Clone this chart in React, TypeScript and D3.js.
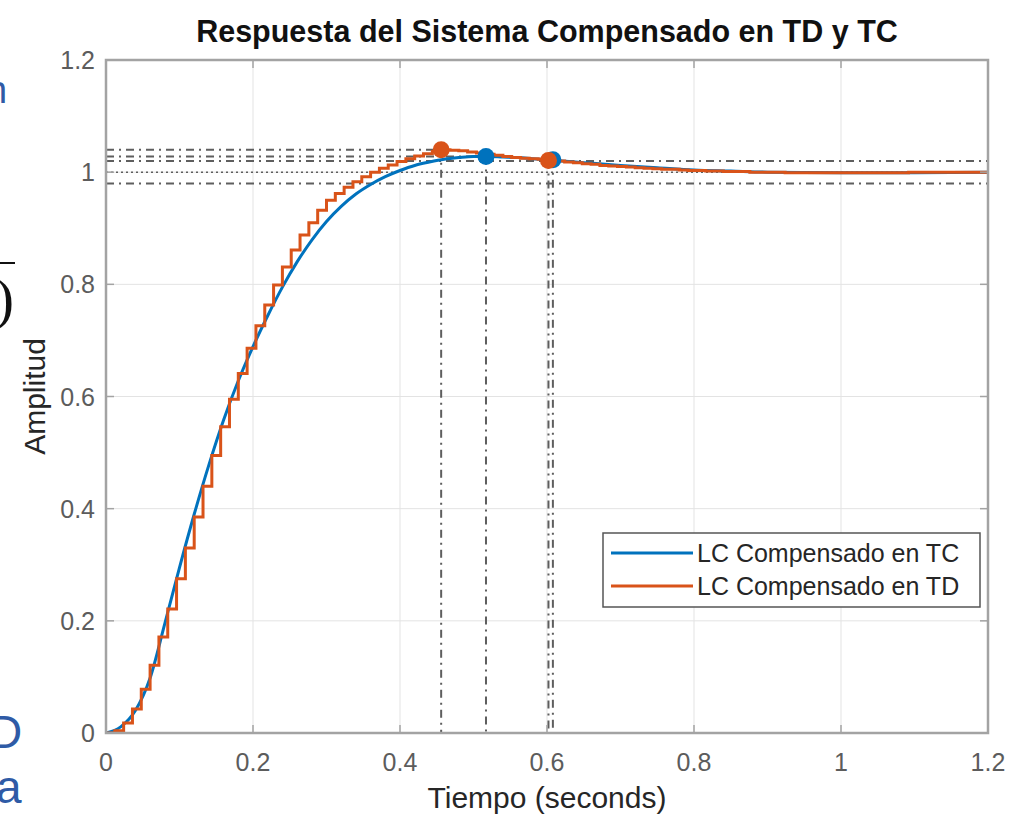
import { useRef, useEffect } from 'react';
import * as d3 from 'd3';

// continuous-time closed loop (blue)
const tcTime = [0, 0.02, 0.04, 0.06, 0.08, 0.10, 0.12, 0.14, 0.16, 0.18, 0.20, 0.22, 0.24, 0.26, 0.28, 0.30,
  0.32, 0.34, 0.36, 0.38, 0.40, 0.42, 0.44, 0.46, 0.48, 0.50, 0.52, 0.54, 0.56, 0.58, 0.60, 0.62, 0.65,
  0.70, 0.75, 0.80, 0.85, 0.90, 1.00, 1.10, 1.20];
const tcValue = [0, 0.011, 0.040, 0.098, 0.195, 0.295, 0.390, 0.478, 0.558, 0.628, 0.689, 0.744, 0.795, 0.840,
  0.879, 0.912, 0.939, 0.961, 0.978, 0.992, 1.003, 1.012, 1.018, 1.023, 1.026, 1.028, 1.028, 1.027, 1.026,
  1.024, 1.022, 1.020, 1.017, 1.012, 1.008, 1.004, 1.002, 1.000, 0.999, 0.999, 1.000];

// discrete-time closed loop (orange), one value per sample
const SAMPLE_T = 0.012;
const tdValue = [
  0, 0.004, 0.018, 0.043, 0.078, 0.121, 0.171, 0.221, 0.275, 0.330,
  0.385, 0.440, 0.495, 0.546, 0.595, 0.641, 0.686, 0.726, 0.763, 0.799,
  0.831, 0.861, 0.888, 0.910, 0.932, 0.950, 0.962, 0.973, 0.983, 0.992,
  1.000, 1.007, 1.013, 1.019, 1.024, 1.029, 1.033, 1.037, 1.040, 1.039,
  1.038, 1.036, 1.034, 1.032, 1.030, 1.028, 1.026, 1.025, 1.024, 1.023,
  1.021, 1.020, 1.018, 1.017, 1.015, 1.014, 1.012, 1.011, 1.010, 1.009,
  1.008, 1.007, 1.006, 1.005, 1.005, 1.004, 1.003, 1.003, 1.002, 1.002,
  1.001, 1.001, 1.001, 1.000, 1.000, 1.000, 1.000, 0.999, 0.999, 0.999,
  0.999, 0.999, 0.999, 0.999, 0.999, 0.999, 0.999, 0.999, 0.999, 0.999,
  0.999, 1.000, 1.000, 1.000, 1.000, 1.000, 1.000, 1.000, 1.000, 1.000,
  1.000,
];

// response characteristics [t, y]
const tcPeak = [0.517, 1.028];
const tdPeak = [0.456, 1.040];
const tcSettle = [0.608, 1.022];
const tdSettle = [0.602, 1.021];
const settleBand = [0.98, 1.02];
const finalValue = 1.0;

const xTicks = [0, 0.2, 0.4, 0.6, 0.8, 1, 1.2];
const yTicks = [0, 0.2, 0.4, 0.6, 0.8, 1, 1.2];

const legendLabels = ['LC Compensado en TC', 'LC Compensado en TD'];
const BLUE = '#0072BD';
const ORANGE = '#D95319';
const FONT = '"Liberation Sans", Arial, Helvetica, sans-serif';

export default function App() {
  const ref = useRef<SVGSVGElement | null>(null);

  useEffect(() => {
    const svg = d3.select(ref.current);
    svg.selectAll('*').remove();

    const L = 106, R = 988, T = 60, B = 733;
    const x = d3.scaleLinear().domain([0, 1.2]).range([L, R]);
    const y = d3.scaleLinear().domain([0, 1.2]).range([B, T]);

    svg.append('rect').attr('width', 1009).attr('height', 817).attr('fill', '#fff');

    // slide fragments cut off at the left edge (they are cut in the source too)
    const frag = svg.append('g').attr('font-family', FONT).attr('fill', '#2F5BA6');
    frag.append('text').attr('x', -14).attr('y', 103).attr('font-size', 38).text('n');
    frag.append('text').attr('x', -11).attr('y', 748).attr('font-size', 46).text('D');
    frag.append('text').attr('x', -4).attr('y', 803).attr('font-size', 46).text('a');
    svg.append('line').attr('x1', 0).attr('x2', 15).attr('y1', 263).attr('y2', 263)
      .attr('stroke', '#111').attr('stroke-width', 2);
    svg.append('text').attr('x', 14).attr('y', 318).attr('text-anchor', 'end')
      .attr('font-family', '"Liberation Serif", "Times New Roman", serif')
      .attr('font-size', 58).attr('fill', '#111').text(')');

    // grid
    const grid = svg.append('g').attr('stroke', '#e3e3e3').attr('stroke-width', 1);
    xTicks.forEach(t => grid.append('line').attr('x1', x(t)).attr('x2', x(t)).attr('y1', T).attr('y2', B));
    yTicks.forEach(t => grid.append('line').attr('x1', L).attr('x2', R).attr('y1', y(t)).attr('y2', y(t)));

    // characteristic reference lines
    const ref_ = svg.append('g').attr('stroke', '#5e5e5e').attr('stroke-width', 2).attr('fill', 'none');
    const dashDot = '8,5,2,5';
    settleBand.forEach(v => ref_.append('line')
      .attr('x1', L).attr('x2', R).attr('y1', y(v)).attr('y2', y(v)).attr('stroke-dasharray', dashDot));
    ref_.append('line').attr('x1', L).attr('x2', R).attr('y1', y(finalValue)).attr('y2', y(finalValue))
      .attr('stroke-dasharray', '2,3').attr('stroke-width', 1.5);
    [tdPeak, tcPeak].forEach(([pt, pv]) => {
      ref_.append('line').attr('x1', L).attr('x2', x(pt)).attr('y1', y(pv)).attr('y2', y(pv))
        .attr('stroke-dasharray', dashDot);
      ref_.append('line').attr('x1', x(pt)).attr('x2', x(pt)).attr('y1', y(pv)).attr('y2', B)
        .attr('stroke-dasharray', dashDot);
    });
    [tdSettle, tcSettle].forEach(([st, sv]) => {
      ref_.append('line').attr('x1', x(st)).attr('x2', x(st)).attr('y1', y(sv)).attr('y2', B)
        .attr('stroke-dasharray', dashDot);
    });

    // curves
    svg.append('clipPath').attr('id', 'plotclip').append('rect')
      .attr('x', L).attr('y', T).attr('width', R - L).attr('height', B - T);
    const plot = svg.append('g').attr('clip-path', 'url(#plotclip)');

    const tcData = tcTime.map((t, i) => [t, tcValue[i]] as [number, number]);
    const tdData = tdValue.map((v, k) => [k * SAMPLE_T, v] as [number, number]);

    plot.append('path').datum(tcData)
      .attr('fill', 'none').attr('stroke', BLUE).attr('stroke-width', 3)
      .attr('d', d3.line<[number, number]>().x(d => x(d[0])).y(d => y(d[1])).curve(d3.curveMonotoneX));
    plot.append('path').datum(tdData)
      .attr('fill', 'none').attr('stroke', ORANGE).attr('stroke-width', 3)
      .attr('d', d3.line<[number, number]>().x(d => x(d[0])).y(d => y(d[1])).curve(d3.curveStepAfter));

    // markers
    [tcPeak, tcSettle].forEach(([mt, mv]) => plot.append('circle')
      .attr('cx', x(mt)).attr('cy', y(mv)).attr('r', 8.5).attr('fill', BLUE));
    [tdPeak, tdSettle].forEach(([mt, mv]) => plot.append('circle')
      .attr('cx', x(mt)).attr('cy', y(mv)).attr('r', 8.5).attr('fill', ORANGE));

    // axes box + ticks
    const ax = svg.append('g').attr('stroke', '#a3a3a3').attr('fill', 'none');
    ax.append('rect').attr('x', L).attr('y', T).attr('width', R - L).attr('height', B - T)
      .attr('stroke-width', 2.5);
    xTicks.forEach(t => {
      ax.append('line').attr('x1', x(t)).attr('x2', x(t)).attr('y1', B).attr('y2', B - 8).attr('stroke-width', 1.5);
      ax.append('line').attr('x1', x(t)).attr('x2', x(t)).attr('y1', T).attr('y2', T + 8).attr('stroke-width', 1.5);
    });
    yTicks.forEach(t => {
      ax.append('line').attr('x1', L).attr('x2', L + 8).attr('y1', y(t)).attr('y2', y(t)).attr('stroke-width', 1.5);
      ax.append('line').attr('x1', R).attr('x2', R - 8).attr('y1', y(t)).attr('y2', y(t)).attr('stroke-width', 1.5);
    });

    const lbl = svg.append('g').attr('font-family', FONT).attr('fill', '#5c5c5c').attr('font-size', 25);
    xTicks.forEach(t => lbl.append('text').attr('x', x(t)).attr('y', B + 38)
      .attr('text-anchor', 'middle').text(d3.format('~g')(t)));
    yTicks.forEach(t => lbl.append('text').attr('x', L - 11).attr('y', y(t) + 9)
      .attr('text-anchor', 'end').text(d3.format('~g')(t)));

    // titles
    svg.append('text').attr('x', (L + R) / 2).attr('y', 42).attr('text-anchor', 'middle')
      .attr('font-family', FONT).attr('font-weight', 'bold').attr('font-size', 30.5).attr('fill', '#111')
      .text('Respuesta del Sistema Compensado en TD y TC');
    svg.append('text').attr('x', (L + R) / 2).attr('y', 808).attr('text-anchor', 'middle')
      .attr('font-family', FONT).attr('font-size', 30).attr('fill', '#262626')
      .text('Tiempo (seconds)');
    svg.append('text').attr('transform', `translate(45,${(T + B) / 2}) rotate(-90)`)
      .attr('text-anchor', 'middle').attr('font-family', FONT).attr('font-size', 30).attr('fill', '#262626')
      .text('Amplitud');

    // legend
    const lg = svg.append('g').attr('transform', 'translate(603,533)');
    lg.append('rect').attr('width', 377).attr('height', 74).attr('fill', '#fff')
      .attr('stroke', '#555').attr('stroke-width', 1.5);
    [BLUE, ORANGE].forEach((c, i) => {
      const yy = 20 + i * 33;
      lg.append('line').attr('x1', 8).attr('x2', 90).attr('y1', yy).attr('y2', yy)
        .attr('stroke', c).attr('stroke-width', 3);
      lg.append('text').attr('x', 94).attr('y', yy + 9).attr('font-family', FONT)
        .attr('font-size', 25).attr('fill', '#262626').text(legendLabels[i]);
    });
  }, []);

  return (
    <svg ref={ref} width={1009} height={817}
      style={{ position: 'absolute', left: 0, top: 0, display: 'block' }} />
  );
}
